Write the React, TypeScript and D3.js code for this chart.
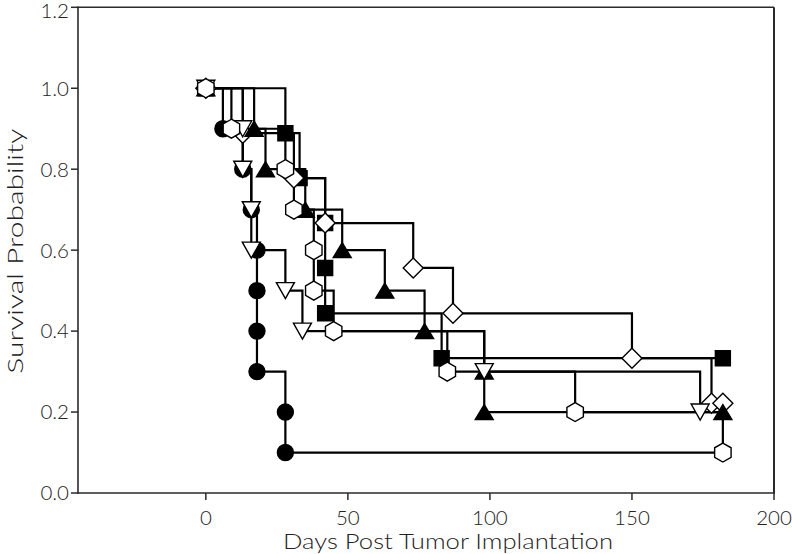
import React from 'react';
import * as d3 from 'd3';

// ---- data ----
const xTicks = [0, 50, 100, 150, 200];
const yTicks = [0, 0.2, 0.4, 0.6, 0.8, 1.0, 1.2];
const yTickLabels = ['0.0', '0.2', '0.4', '0.6', '0.8', '1.0', '1.2'];

// filled circles
const circleDays = [6, 13, 16, 18, 18, 18, 18, 28, 28];
const circleSurv = [0.9, 0.8, 0.7, 0.6, 0.5, 0.4, 0.3, 0.2, 0.1];
const circleEnd = 182;

// open inverted triangles
const invTriDays = [13, 13, 16, 16, 28, 34, 98, 174];
const invTriSurv = [0.9, 0.8, 0.7, 0.6, 0.5, 0.4, 0.3, 0.2];
const invTriEnd = 174;

// open hexagons
const hexDays = [9, 28, 31, 38, 38, 45, 85, 130, 182];
const hexSurv = [0.9, 0.8, 0.7, 0.6, 0.5, 0.4, 0.3, 0.2, 0.1];
const hexEnd = 182;

// filled triangles
const triDays = [17, 21, 35, 48, 63, 77, 98, 98];
const triSurv = [0.9, 0.8, 0.7, 0.6, 0.5, 0.4, 0.3, 0.2];
const triEnd = 182;

// filled squares
const squareDays = [28, 33, 42, 42, 42, 83];
const squareSurv = [0.889, 0.778, 0.667, 0.556, 0.444, 0.333];
const squareEnd = 182;

// open diamonds
const diamondDays = [13, 31, 42, 73, 87, 150, 178];
const diamondSurv = [0.889, 0.778, 0.667, 0.556, 0.444, 0.333, 0.222];
const diamondEnd = 182;

// ---- layout ----
const W = 792;
const H = 554;
const L = 78, R = 774, T = 7.3, B = 493;
const FONT = "'Century Gothic', 'URW Gothic', Lato, 'DejaVu Sans', sans-serif";

const x = d3.scaleLinear().domain([-45, 200]).range([L, R]);
const y = d3.scaleLinear().domain([0, 1.2]).range([B, T]);

type Shape = 'circle' | 'square' | 'tri' | 'invtri' | 'hex' | 'diamond';

function shapePath(s: Shape): string {
  switch (s) {
    case 'circle':
      return d3.symbol().type(d3.symbolCircle).size(Math.PI * 8 * 8)() as string;
    case 'square':
      return d3.symbol().type(d3.symbolSquare).size(15 * 15)() as string;
    case 'tri':
      return 'M0,-7.5L9,7.5L-9,7.5Z';
    case 'invtri':
      return 'M0,8L9,-8L-9,-8Z';
    case 'diamond':
      return 'M0,-10L10,0L0,10L-10,0Z';
    case 'hex': {
      const r = 9.5;
      const pts = d3.range(6).map((i) => {
        const a = (-90 + 60 * i) * Math.PI / 180;
        return [r * Math.cos(a), r * Math.sin(a)];
      });
      return 'M' + pts.map((p) => p[0].toFixed(2) + ',' + p[1].toFixed(2)).join('L') + 'Z';
    }
  }
}

interface Series {
  days: number[];
  surv: number[];
  end: number;
  shape: Shape;
  filled: boolean;
  endMarker: boolean;
}

const series: Series[] = [
  { days: circleDays, surv: circleSurv, end: circleEnd, shape: 'circle', filled: true, endMarker: false },
  { days: squareDays, surv: squareSurv, end: squareEnd, shape: 'square', filled: true, endMarker: true },
  { days: diamondDays, surv: diamondSurv, end: diamondEnd, shape: 'diamond', filled: false, endMarker: true },
  { days: triDays, surv: triSurv, end: triEnd, shape: 'tri', filled: true, endMarker: true },
  { days: invTriDays, surv: invTriSurv, end: invTriEnd, shape: 'invtri', filled: false, endMarker: false },
  { days: hexDays, surv: hexSurv, end: hexEnd, shape: 'hex', filled: false, endMarker: false },
];

const stepLine = d3
  .line<[number, number]>()
  .x((d) => x(d[0]))
  .y((d) => y(d[1]))
  .curve(d3.curveStepAfter);

function curvePoints(s: Series): [number, number][] {
  const pts: [number, number][] = [[0, 1]];
  s.days.forEach((d, i) => pts.push([d, s.surv[i]]));
  const last = s.surv[s.surv.length - 1];
  const lastDay = s.days[s.days.length - 1];
  if (s.end > lastDay) pts.push([s.end, last]);
  return pts;
}

function markerPoints(s: Series): [number, number][] {
  const pts: [number, number][] = [[0, 1]];
  s.days.forEach((d, i) => pts.push([d, s.surv[i]]));
  if (s.endMarker) pts.push([s.end, s.surv[s.surv.length - 1]]);
  return pts;
}

export default function App() {
  const axisColor = '#2a2a2a';
  return (
    <svg
      width={W}
      height={H}
      viewBox={`0 0 ${W} ${H}`}
      style={{ position: 'absolute', left: 0, top: 0, background: '#fff' }}
    >
      <rect x={0} y={0} width={W} height={H} fill="#fff" />
      {/* frame */}
      <line x1={L} x2={R} y1={T} y2={T} stroke={axisColor} strokeWidth={1.6} />
      <line x1={R} x2={R} y1={T} y2={B} stroke={axisColor} strokeWidth={2} />
      <line x1={L} x2={L} y1={T - 0.8} y2={B + 0.8} stroke={axisColor} strokeWidth={1.6} />
      <line x1={L - 0.8} x2={R + 1} y1={B} y2={B} stroke={axisColor} strokeWidth={1.6} />

      {/* y ticks */}
      {yTicks.map((t, i) => (
        <g key={'yt' + i}>
          <line x1={L - 7} x2={L} y1={y(t)} y2={y(t)} stroke={axisColor} strokeWidth={1.5} />
          <text
            x={L - 9}
            y={Math.max(y(t), 11)}
            dy="0.36em"
            textAnchor="end"
            fontFamily={FONT}
            fontSize={20.5}
            fontWeight={300}
            fill="#222"
          >
            {yTickLabels[i]}
          </text>
        </g>
      ))}

      {/* x ticks */}
      {xTicks.map((t) => (
        <g key={'xt' + t}>
          <line x1={x(t)} x2={x(t)} y1={B} y2={B + 7} stroke={axisColor} strokeWidth={1.5} />
          <text
            x={x(t)}
            y={525}
            textAnchor="middle"
            fontFamily={FONT}
            fontSize={20.5}
            fontWeight={300}
            fill="#222"
          >
            {t}
          </text>
        </g>
      ))}

      {/* axis titles */}
      <text
        x={448}
        y={549}
        textAnchor="middle"
        fontFamily={FONT}
        fontSize={21.5}
        fontWeight={300}
        fill="#222"
        textLength={330}
        lengthAdjust="spacingAndGlyphs"
      >
        Days Post Tumor Implantation
      </text>
      <text
        transform={`translate(23,${(T + B) / 2 + 1}) rotate(-90)`}
        textAnchor="middle"
        fontFamily={FONT}
        fontSize={21.5}
        fontWeight={300}
        fill="#222"
        textLength={245}
        lengthAdjust="spacingAndGlyphs"
      >
        Survival Probability
      </text>

      {/* step curves */}
      {series.map((s, i) => (
        <path
          key={'c' + i}
          d={stepLine(curvePoints(s)) as string}
          fill="none"
          stroke="#000"
          strokeWidth={2.2}
        />
      ))}

      {/* markers */}
      {series.map((s, i) => (
        <g key={'m' + i}>
          {markerPoints(s).map((p, j) => (
            <path
              key={j}
              transform={`translate(${x(p[0])},${y(p[1])})`}
              d={shapePath(s.shape)}
              fill={s.filled ? '#000' : '#fff'}
              stroke="#000"
              strokeWidth={1.4}
            />
          ))}
        </g>
      ))}
    </svg>
  );
}
